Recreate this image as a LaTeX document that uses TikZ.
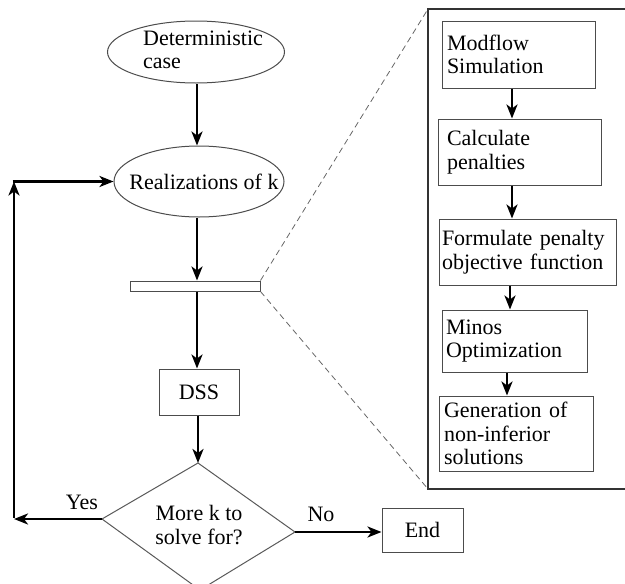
\documentclass[tikz,border=0pt]{standalone}
\usepackage{fontspec}
\setmainfont{Liberation Serif}
\newfontfamily\diagfont{Liberation Serif}
\usetikzlibrary{arrows.meta,shapes.geometric}
\begin{document}
\begin{tikzpicture}[x=1pt,y=-1pt,
  font=\diagfont\fontsize{22}{23.5}\selectfont,
  shp/.style={draw=black!70,line width=1pt},
  arr/.style={draw=black,line width=2.8pt,-{Stealth[length=14pt,width=11pt,inset=4pt]}},
  boxl/.style={shp,rectangle,inner xsep=5pt,inner ysep=0pt,align=left},
  boxc/.style={shp,rectangle,inner sep=0pt,align=center},
  zoomline/.style={draw=black!60,line width=0.8pt,dash pattern=on 6pt off 4pt},
  lbl/.style={inner sep=0pt}
]
\useasboundingbox (0,0) rectangle (625,584);

% main column
\node[shp,ellipse,minimum width=177pt,minimum height=62pt,inner sep=0pt] (det) at (196,52) {};
\node[lbl,align=left] (dett) at (203,50) {Deterministic\\case};
\node[shp,ellipse,minimum width=170pt,minimum height=71pt,inner sep=0pt] (real) at (199,181.5) {};
\node[lbl] (realt) at (204,182) {Realizations of k};
\node[shp,rectangle,minimum width=130pt,minimum height=10pt,inner sep=0pt] (bar) at (195,286) {};
\node[boxc,minimum width=80pt,minimum height=46pt] (dss) at (199,392) {DSS};

% decision diamond
\coordinate (dtop) at (198,463);
\coordinate (dleft) at (102,519);
\coordinate (dright) at (295,532);
\coordinate (dbot) at (200,590);
\draw[shp,draw=black!65] (dtop) -- (dright) -- (dbot) -- (dleft) -- cycle;
\node[lbl,align=center] (dect) at (199,525) {More k to\\solve for?};

\node[boxc,minimum width=81pt,minimum height=44pt] (endb) at (422.5,530) {End};

% main arrows
\coordinate (cx) at (197,0);
\draw[arr] (det.south -| cx) -- (real.north -| cx);
\draw[arr] (real.south -| cx) -- (bar.north -| cx);
\draw[arr] (bar.south -| cx) -- (dss.north -| cx);
\draw[arr] (dss.south -| dtop) -- (dtop);
\coordinate (lp1) at (14,519);
\coordinate (lp2) at (14,181.5);
\draw[arr] (dleft) -- (lp1);
\draw[arr] ([yshift=1.4pt]lp1) -- (lp2);
\draw[arr] ([xshift=-1.4pt]lp2) -- (real.west);
\draw[arr] (dright) -- (endb.west |- dright);
\node[lbl] (yes) at (82,502) {Yes};
\node[lbl] (no) at (321,514) {No};

% detail panel
\coordinate (ptl) at (428,9);
\coordinate (pbl) at (428,489);
\draw[draw=black!80,line width=1.2pt] (625,9) -- (ptl) -- (pbl) -- (625,489);
\draw[zoomline] (bar.north east) -- (ptl);
\draw[zoomline] (bar.south east) -- (pbl);

\node[boxl,text width=143pt,minimum height=67pt] (m1) at (518.5,54.5) {Modflow\\Simulation};
\node[boxl,inner xsep=9pt,text width=145pt,minimum height=66pt] (m2) at (519.5,152) {Calculate\\penalties};
\node[boxl,inner xsep=3pt,text width=171pt,minimum height=66pt] (m3) at (527.5,252) {Formulate penalty\\objective function};
\node[boxl,inner xsep=4pt,text width=137pt,minimum height=62pt] (m4) at (514.5,341) {Minos\\Optimization};
\node[boxl,text width=144pt,minimum height=75pt] (m5) at (516,433.5) {Generation of\\non-inferior\\solutions};

\coordinate (c1) at (512,0);
\coordinate (c2) at (510,0);
\coordinate (c3) at (507,0);
\draw[arr] (m1.south -| c1) -- (m2.north -| c1);
\draw[arr] (m2.south -| c1) -- (m3.north -| c1);
\draw[arr] (m3.south -| c2) -- (m4.north -| c2);
\draw[arr] (m4.south -| c3) -- (m5.north -| c3);
\end{tikzpicture}
\end{document}
